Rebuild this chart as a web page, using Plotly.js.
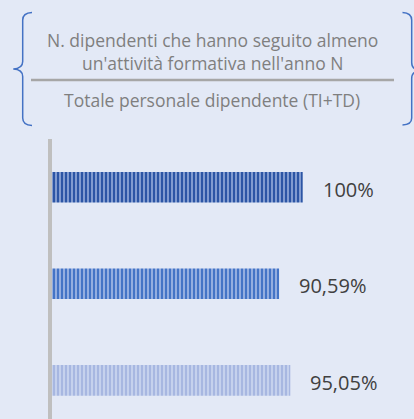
<!DOCTYPE html>
<html>
<head>
<meta charset="utf-8">
<script src="https://cdn.plot.ly/plotly-3.0.1.min.js"></script>
<style>
  html, body { margin: 0; padding: 0; background: #E3E9F6; }
  #chart { width: 414px; height: 419px; }
</style>
</head>
<body>
<div id="chart"></div>
<script>
// ---- data ----
const categories = ['Anno N', 'Anno N-1', 'Anno N-2'];
const values = [100, 90.59, 95.05];
const valueLabels = ['100%', '90,59%', '95,05%'];
const stripeColors = ['#2C55A5', '#4474C6', '#A7B7E1'];
const baseColors = ['#8AA3D5', '#9DB4E3', '#C9D4EF'];
const formulaNumerator = ['N. dipendenti che hanno seguito almeno', "un'attività formativa nell'anno N"];
const formulaDenominator = 'Totale personale dipendente (TI+TD)';

// ---- geometry helpers (figure pixels -> paper) ----
const W = 414, H = 419;
const px = x => x / W;
const py = y => 1 - y / H;
function path(cmds) {
  return cmds.map(c => c[0] + ' ' + c.slice(1).map((v, i) => i % 2 === 0 ? px(v).toFixed(5) : py(v).toFixed(5)).join(',')).join(' ');
}

const leftBrace = path([
  ['M', 32, 12.5], ['Q', 22.7, 13, 22.7, 20], ['L', 22.7, 61.5],
  ['Q', 22.7, 68.5, 13.3, 69], ['Q', 22.7, 69.5, 22.7, 76.5],
  ['L', 22.7, 118], ['Q', 22.7, 125, 32, 125.5]
]);
const rightBrace = path([
  ['M', 402.5, 12.5], ['Q', 411.7, 13, 411.7, 20], ['L', 411.7, 62.5],
  ['Q', 411.7, 70, 421, 70.5], ['Q', 411.7, 71, 411.7, 78.5],
  ['L', 411.7, 118], ['Q', 411.7, 124.5, 402.5, 125]
]);

const traces = categories.map((c, i) => ({
  type: 'bar',
  orientation: 'h',
  y: [c],
  x: [values[i]],
  width: 0.316,
  marker: {
    color: stripeColors[i],
    line: { width: 0 },
    pattern: { shape: '|', fgcolor: stripeColors[i], bgcolor: baseColors[i], fgopacity: 1, size: 4, solidity: 0.55, fillmode: 'replace' }
  },
  hoverinfo: 'skip'
}));

const fontFam = '"Open Sans", "Noto Sans", sans-serif';

const annotations = values.map((v, i) => ({
  x: v, y: categories[i], xref: 'x', yref: 'y',
  text: valueLabels[i], showarrow: false,
  xanchor: 'left', yanchor: 'middle', xshift: 18, yshift: -2,
  font: { family: fontFam, size: 20, color: '#404040' }
}));

annotations.push(
  { x: px(212), y: py(40), xref: 'paper', yref: 'paper', text: formulaNumerator[0], showarrow: false,
    xanchor: 'center', yanchor: 'middle', font: { family: fontFam, size: 17.5, color: '#7F7F7F' } },
  { x: px(212), y: py(63), xref: 'paper', yref: 'paper', text: formulaNumerator[1], showarrow: false,
    xanchor: 'center', yanchor: 'middle', font: { family: fontFam, size: 17.5, color: '#7F7F7F' } },
  { x: px(212), y: py(99.5), xref: 'paper', yref: 'paper', text: formulaDenominator, showarrow: false,
    xanchor: 'center', yanchor: 'middle', font: { family: fontFam, size: 17.5, color: '#7F7F7F' } }
);

const layout = {
  width: W, height: H,
  margin: { l: 0, r: 0, t: 0, b: 0, pad: 0 },
  paper_bgcolor: '#E3E9F6',
  plot_bgcolor: 'rgba(0,0,0,0)',
  showlegend: false,
  barmode: 'overlay',
  xaxis: {
    domain: [52 / W, 1],
    range: [0, (W - 52) / 2.507],
    visible: false, fixedrange: true
  },
  yaxis: {
    domain: [0, py(139)],
    type: 'category',
    categoryorder: 'array', categoryarray: categories,
    range: [2.4, -0.5],
    showticklabels: false, ticks: '', showgrid: false, zeroline: false,
    showline: true, linecolor: '#BFBFBF', linewidth: 4.5,
    fixedrange: true
  },
  shapes: [
    { type: 'path', xref: 'paper', yref: 'paper', path: leftBrace, line: { color: '#4472C4', width: 1.5 } },
    { type: 'path', xref: 'paper', yref: 'paper', path: rightBrace, line: { color: '#4472C4', width: 1.5 } },
    { type: 'line', xref: 'paper', yref: 'paper', x0: px(31), x1: px(394), y0: py(80), y1: py(80),
      line: { color: '#A6A6A6', width: 2.5 } }
  ],
  annotations: annotations
};

Plotly.newPlot('chart', traces, layout, { staticPlot: true, displayModeBar: false });
</script>
</body>
</html>
